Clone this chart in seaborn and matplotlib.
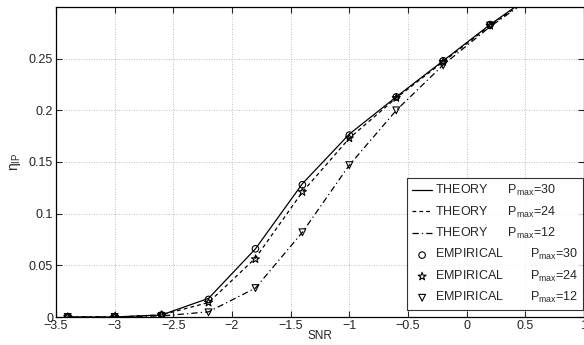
import numpy as np
import pandas as pd
import seaborn as sns
import matplotlib.pyplot as plt

snr = [-3.4, -3.0, -2.6, -2.2, -1.8, -1.4, -1.0, -0.6, -0.2, 0.2]
snr_theory = snr + [0.6]

theory_30 = [0.0, 0.0, 0.002, 0.018, 0.066, 0.129, 0.177, 0.213, 0.248, 0.283, 0.315]
theory_24 = [0.0, 0.0, 0.002, 0.014, 0.057, 0.121, 0.173, 0.212, 0.247, 0.282, 0.314]
theory_12 = [0.0, 0.0, 0.001, 0.005, 0.028, 0.082, 0.147, 0.200, 0.244, 0.281, 0.313]

emp_30 = [0.0, 0.0, 0.002, 0.017, 0.066, 0.128, 0.176, 0.213, 0.248, 0.283]
emp_24 = [0.0, 0.0, 0.002, 0.014, 0.056, 0.121, 0.173, 0.212, 0.247, 0.282]
emp_12 = [0.0, 0.0, 0.001, 0.0045, 0.028, 0.082, 0.147, 0.200, 0.2435, 0.282]

sns.set_style("ticks")
plt.rcParams['font.family'] = ['Liberation Sans', 'DejaVu Sans']
plt.rcParams['mathtext.fontset'] = 'custom'
plt.rcParams['mathtext.rm'] = 'Liberation Sans'
plt.rcParams['mathtext.it'] = 'Liberation Sans'

fig = plt.figure(figsize=(5.84, 3.45), dpi=100)
ax = fig.add_axes([56 / 584, 28 / 345, 528 / 584, 310 / 345])

lw = 0.9
sns.lineplot(x=snr_theory, y=theory_30, ax=ax, color='black', linestyle='-', linewidth=lw,
             label=r'THEORY      P$_{\mathrm{max}}$=30')
sns.lineplot(x=snr_theory, y=theory_24, ax=ax, color='black', linestyle=(0, (3, 2.5)), linewidth=lw,
             label=r'THEORY      P$_{\mathrm{max}}$=24')
sns.lineplot(x=snr_theory, y=theory_12, ax=ax, color='black', linestyle=(0, (5, 2.5, 1, 2.5)), linewidth=lw,
             label=r'THEORY      P$_{\mathrm{max}}$=12')
sns.scatterplot(x=snr, y=emp_30, ax=ax, marker='o', s=22, facecolor='none', edgecolor='black', linewidth=0.8,
                label=r'EMPIRICAL        P$_{\mathrm{max}}$=30')
sns.scatterplot(x=snr, y=emp_24, ax=ax, marker='*', s=36, facecolor='none', edgecolor='black', linewidth=0.8,
                label=r'EMPIRICAL        P$_{\mathrm{max}}$=24')
sns.scatterplot(x=snr, y=emp_12, ax=ax, marker='v', s=24, facecolor='none', edgecolor='black', linewidth=0.8,
                label=r'EMPIRICAL        P$_{\mathrm{max}}$=12')

ax.set_xlim(-3.5, 1)
ax.set_ylim(0, 0.3)
ax.set_xticks(np.arange(-3.5, 1.01, 0.5))
ax.set_xticklabels(['\u22123.5', '\u22123', '\u22122.5', '\u22122', '\u22121.5', '\u22121', '\u22120.5', '0', '0.5', '1'])
ax.set_yticks([0, 0.05, 0.1, 0.15, 0.2, 0.25])
ax.set_yticklabels(['0', '0.05', '0.1', '0.15', '0.2', '0.25'])
ax.tick_params(direction='in', top=True, right=True, labelsize=9, length=4, width=0.8, pad=2)
ax.grid(True, linestyle=(0, (1, 2)), color='#aaaaaa', linewidth=0.6)
for sp in ax.spines.values():
    sp.set_linewidth(0.9)
    sp.set_color('black')

ax.set_xlabel('SNR', fontsize=8.5, labelpad=-1)
ax.set_ylabel(r'$\eta_{\mathrm{IP}}$', fontsize=10, labelpad=4)

leg = ax.legend(loc='lower right', bbox_to_anchor=(0.998, 0.022), fontsize=9, frameon=True,
                fancybox=False, edgecolor='black', handlelength=1.6, handletextpad=0.2,
                labelspacing=0.5, borderpad=0.4, borderaxespad=0)
leg.get_frame().set_linewidth(0.8)

fig.savefig('out.png', dpi=100)
